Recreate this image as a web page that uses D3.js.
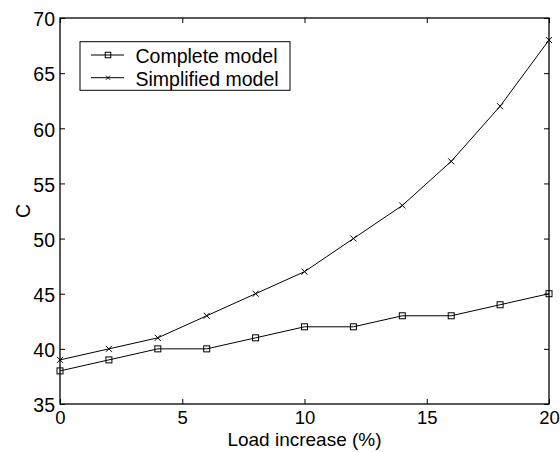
<!DOCTYPE html>
<html><head><meta charset="utf-8">
<script src="https://cdn.jsdelivr.net/npm/d3@7"></script>
<style>body{margin:0;background:#fff}svg{display:block}text{font-family:"Liberation Sans",Arial,sans-serif;fill:#000}</style>
</head><body><svg id="c" width="560" height="452"></svg>
<script>
const loadIncrease = [0,2,4,6,8,10,12,14,16,18,20];
const completeModel = [38,39,40,40,41,42,42,43,43,44,45];
const simplifiedModel = [39,40,41,43,45,47,50,53,57,62,68];
const xTicks = [0,5,10,15,20];
const yTicks = [35,40,45,50,55,60,65,70];
const seriesNames = ["Complete model","Simplified model"];

const svg = d3.select("#c");
const L=60,R=549,T=18,B=404;
const x = d3.scaleLinear().domain([0,20]).range([L,R]);
const y = d3.scaleLinear().domain([35,70]).range([B,T]);

svg.append("rect").attr("x",L).attr("y",T).attr("width",R-L).attr("height",B-T)
  .attr("fill","none").attr("stroke","#000").attr("stroke-width",1.3);

const fs = "19.5px";
svg.append("g").attr("transform",`translate(0,${B})`)
  .call(d3.axisBottom(x).tickValues(xTicks).tickSize(-5).tickPadding(7))
  .call(g=>{g.select(".domain").remove();g.selectAll("text").style("font-size","18.5px").attr("font-family","Liberation Sans, Arial");});
svg.append("g").attr("transform",`translate(0,${T})`)
  .call(d3.axisTop(x).tickValues(xTicks).tickSize(-5).tickFormat(""))
  .call(g=>{g.select(".domain").remove();});
svg.append("g").attr("transform",`translate(${L},0)`)
  .call(d3.axisLeft(y).tickValues(yTicks).tickSize(-5).tickPadding(5))
  .call(g=>{g.select(".domain").remove();g.selectAll("text").style("font-size",fs).attr("font-family","Liberation Sans, Arial").attr("dy","0.4em");});
svg.append("g").attr("transform",`translate(${R},0)`)
  .call(d3.axisRight(y).tickValues(yTicks).tickSize(-5).tickFormat(""))
  .call(g=>{g.select(".domain").remove();});

svg.append("text").attr("x",(L+R)/2).attr("y",446).attr("text-anchor","middle").style("font-size","19px").text("Load increase (%)");
svg.append("text").attr("transform",`translate(30,${(T+B)/2}) rotate(-90)`).attr("text-anchor","middle").style("font-size",fs).text("C");

const line = d3.line().x((d,i)=>x(loadIncrease[i])).y(d=>y(d));
svg.append("path").datum(completeModel).attr("d",line).attr("fill","none").attr("stroke","#000").attr("stroke-width",1);
svg.append("path").datum(simplifiedModel).attr("d",line).attr("fill","none").attr("stroke","#000").attr("stroke-width",1);

function square(g,cx,cy,s){g.append("rect").attr("x",cx-s/2).attr("y",cy-s/2).attr("width",s).attr("height",s).attr("fill","none").attr("stroke","#000").attr("stroke-width",1);}
function cross(g,cx,cy,s){g.append("path").attr("d",`M${cx-s/2},${cy-s/2}L${cx+s/2},${cy+s/2}M${cx-s/2},${cy+s/2}L${cx+s/2},${cy-s/2}`).attr("stroke","#000").attr("stroke-width",1);}

const mk = svg.append("g");
completeModel.forEach((v,i)=>square(mk,x(loadIncrease[i]),y(v),6));
simplifiedModel.forEach((v,i)=>cross(mk,x(loadIncrease[i]),y(v),6));

const lg = svg.append("g");
lg.append("rect").attr("x",80).attr("y",41.7).attr("width",210).attr("height",48.6).attr("fill","#fff").attr("stroke","#000").attr("stroke-width",1);
const rows=[55,77.7];
seriesNames.forEach((n,i)=>{
  lg.append("line").attr("x1",91).attr("x2",124).attr("y1",rows[i]).attr("y2",rows[i]).attr("stroke","#000");
  if(i===0) square(lg,108,rows[i],5.5); else cross(lg,108,rows[i],4);
  lg.append("text").attr("x",135.5).attr("y",rows[i]+8).style("font-size",fs).text(n);
});
</script></body></html>
